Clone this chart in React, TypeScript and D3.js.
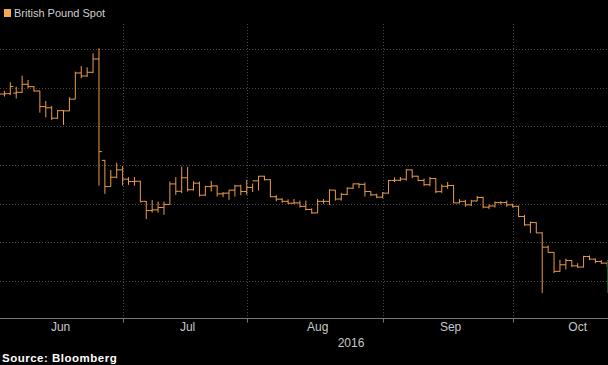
import * as d3 from 'd3';
import React from 'react';

// GBP/USD daily bars, Jun 1 - Oct 24 2016 (weekdays)
const startDay = '2016-06-01';
const lastBarDay = '2016-10-24';
const axisEndDay = '2016-10-31';

const opens = [
  1.4481, 1.4417, 1.4423, 1.4430, 1.4440, 1.4544, 1.4513, 1.4457, 1.4255, 1.4240, 1.4105,
  1.4203, 1.4200, 1.4352, 1.4690, 1.4651, 1.4699, 1.4871, 1.3560, 1.3221, 1.3342, 1.3437,
  1.3317, 1.3286, 1.3290, 1.3030, 1.2911, 1.2920, 1.2950, 1.2990, 1.3255, 1.3160, 1.3335,
  1.3180, 1.3265, 1.3110, 1.3221, 1.3230, 1.3127, 1.3136, 1.3175, 1.3230, 1.3157,
  1.3210, 1.3295, 1.3355, 1.3310, 1.3090, 1.3058, 1.3030, 1.3006, 1.3010, 1.2965, 1.2925,
  1.2880, 1.3030, 1.3030, 1.3175, 1.3060, 1.3120, 1.3200, 1.3256, 1.3250, 1.3157, 1.3114, 1.3084,
  1.3136, 1.3300, 1.3302, 1.3317, 1.3437, 1.3355, 1.3300, 1.3245, 1.3325, 1.3155, 1.3225,
  1.3235, 1.3010, 1.3030, 1.2985, 1.3035, 1.3080, 1.2955, 1.2970, 1.3014, 1.3014, 1.2985,
  1.2965, 1.2834, 1.2726, 1.2756, 1.2622, 1.2438, 1.2370, 1.2125, 1.2210, 1.2265, 1.2196,
  1.2180, 1.2317, 1.2283, 1.2252, 1.2231,
];
const highs = [
  1.4500, 1.4460, 1.4570, 1.4513, 1.4655, 1.4600, 1.4520, 1.4462, 1.4328, 1.4264, 1.4212,
  1.4210, 1.4376, 1.4707, 1.4780, 1.4763, 1.4944, 1.5010, 1.3566, 1.3437, 1.3531, 1.3488,
  1.3342, 1.3345, 1.3295, 1.3035, 1.3049, 1.3027, 1.3027, 1.3286, 1.3342, 1.3479, 1.3472,
  1.3290, 1.3286, 1.3230, 1.3295, 1.3235, 1.3149, 1.3178, 1.3243, 1.3245, 1.3307,
  1.3260, 1.3359, 1.3360, 1.3316, 1.3110, 1.3070, 1.3055, 1.3060, 1.3040, 1.3040, 1.2940,
  1.3058, 1.3060, 1.3187, 1.3178, 1.3140, 1.3210, 1.3260, 1.3262, 1.3273, 1.3160, 1.3130, 1.3150,
  1.3307, 1.3340, 1.3345, 1.3446, 1.3440, 1.3360, 1.3325, 1.3345, 1.3330, 1.3250, 1.3280,
  1.3243, 1.3060, 1.3050, 1.3050, 1.3100, 1.3090, 1.2990, 1.3030, 1.3030, 1.3040, 1.3000,
  1.2975, 1.2855, 1.2769, 1.2760, 1.2630, 1.2460, 1.2375, 1.2274, 1.2290, 1.2270, 1.2230,
  1.2326, 1.2330, 1.2290, 1.2270, 1.2250,
];
const lows = [
  1.4385, 1.4385, 1.4406, 1.4360, 1.4435, 1.4492, 1.4448, 1.4177, 1.4117, 1.4083, 1.4096,
  1.4018, 1.4195, 1.4350, 1.4621, 1.4640, 1.4690, 1.3234, 1.3127, 1.3221, 1.3329, 1.3234,
  1.3243, 1.3233, 1.3015, 1.2800, 1.2885, 1.2885, 1.2855, 1.2985, 1.3114, 1.3136, 1.3157,
  1.3170, 1.3092, 1.3100, 1.3157, 1.3092, 1.3084, 1.3049, 1.3092, 1.3110, 1.3114,
  1.3150, 1.3170, 1.3300, 1.3084, 1.3030, 1.3010, 1.2995, 1.2996, 1.2950, 1.2915, 1.2870,
  1.2877, 1.3000, 1.2984, 1.3040, 1.3040, 1.3110, 1.3190, 1.3200, 1.3092, 1.3100, 1.3070, 1.3070,
  1.3130, 1.3280, 1.3290, 1.3298, 1.3330, 1.3290, 1.3230, 1.3225, 1.3136, 1.3140, 1.3190,
  1.3006, 1.3006, 1.2960, 1.2970, 1.3030, 1.2940, 1.2930, 1.2950, 1.2990, 1.2960, 1.2950,
  1.2826, 1.2713, 1.2619, 1.2619, 1.1844, 1.2365, 1.2102, 1.2120, 1.2150, 1.2180, 1.2170,
  1.2175, 1.2270, 1.2230, 1.2220, 1.2180,
];
const closes = [
  1.4417, 1.4423, 1.4515, 1.4440, 1.4544, 1.4513, 1.4457, 1.4255, 1.4240, 1.4105, 1.4203,
  1.4200, 1.4352, 1.4690, 1.4651, 1.4699, 1.4871, 1.3673, 1.3221, 1.3342, 1.3437, 1.3317,
  1.3286, 1.3290, 1.3030, 1.2911, 1.2920, 1.2950, 1.2990, 1.3255, 1.3160, 1.3335, 1.3180,
  1.3265, 1.3110, 1.3221, 1.3230, 1.3127, 1.3136, 1.3175, 1.3230, 1.3157, 1.3210,
  1.3295, 1.3355, 1.3310, 1.3090, 1.3058, 1.3030, 1.3006, 1.3010, 1.2965, 1.2925, 1.2880,
  1.3030, 1.3030, 1.3175, 1.3060, 1.3120, 1.3200, 1.3256, 1.3250, 1.3157, 1.3114, 1.3084, 1.3136,
  1.3300, 1.3302, 1.3317, 1.3437, 1.3355, 1.3300, 1.3245, 1.3325, 1.3155, 1.3225, 1.3235,
  1.3010, 1.3030, 1.2985, 1.3035, 1.3080, 1.2955, 1.2970, 1.3014, 1.3014, 1.2985, 1.2965,
  1.2834, 1.2726, 1.2756, 1.2622, 1.2438, 1.2370, 1.2125, 1.2210, 1.2265, 1.2196, 1.2180,
  1.2317, 1.2283, 1.2252, 1.2231, 1.2200,
];

const yTicks = [1.5, 1.45, 1.4, 1.35, 1.3, 1.25, 1.2];
const monthLabels = ['Jun', 'Jul', 'Aug', 'Sep', 'Oct'];
const yearLabel = '2016';

const width = 608;
const height = 365;
const plotTop = 24;
const axisY = 318.5;

const parse = d3.utcParse('%Y-%m-%d');
const fmt = d3.utcFormat('%Y-%m-%d');
const isWeekday = (d: Date) => d.getUTCDay() !== 0 && d.getUTCDay() !== 6;

// trading-day (weekday) axis
const axisDays = d3.utcDay
  .range(parse(startDay)!, d3.utcDay.offset(parse(axisEndDay)!, 1))
  .filter(isWeekday);
const barDays = axisDays.filter(d => d <= parse(lastBarDay)!);

const step = 5.91;
const x = d3.scalePoint<string>()
  .domain(axisDays.map(fmt))
  .range([-1.5, -1.5 + (axisDays.length - 1) * step]);

const y = d3.scaleLinear().domain([1.2, 1.5]).range([281, 49]);

const bars = barDays.map((d, i) => ({
  key: fmt(d),
  o: opens[i], h: highs[i], l: lows[i], c: closes[i],
}));

// month groups on the trading-day axis
const months = d3.groups(axisDays, d => d.getUTCMonth()).map(([, days]) => days);

export default function App() {
  const barColor = '#eb9c48';
  const gridColor = '#4a4a4a';
  const font = '"Liberation Sans", Arial, sans-serif';

  const monthEdges = months.slice(0, -1).map(days => x(fmt(days[days.length - 1]))!);

  return (
    <svg width={width} height={height} style={{ display: 'block', position: 'absolute', left: 0, top: 0, background: '#000' }}>
      <rect width={width} height={height} fill="#000" />

      {yTicks.map(t => (
        <line key={t} x1={0} x2={width} y1={Math.round(y(t)) + 0.5} y2={Math.round(y(t)) + 0.5}
          stroke={gridColor} strokeDasharray="1,2" />
      ))}
      {monthEdges.map((mx, i) => (
        <line key={i} x1={Math.round(mx) + 0.5} x2={Math.round(mx) + 0.5} y1={plotTop} y2={axisY}
          stroke={gridColor} strokeDasharray="1,2" />
      ))}

      <g fill="none" stroke={barColor} strokeWidth={1}>
        {bars.map(b => {
          const bx = x(b.key)!;
          return (
            <path key={b.key}
              d={`M${bx},${y(b.h)}V${y(b.l)}M${bx - 3},${y(b.o)}H${bx}M${bx},${y(b.c)}H${bx + 3}`} />
          );
        })}
      </g>

      <line x1={607.5} x2={607.5} y1={260} y2={293} stroke="#174f20" />

      <line x1={0} x2={width} y1={axisY} y2={axisY} stroke="#777" />
      {monthEdges.map((mx, i) => (
        <line key={i} x1={Math.round(mx) + 0.5} x2={Math.round(mx) + 0.5} y1={axisY} y2={axisY + 4} stroke="#777" />
      ))}

      {months.map((days, i) => {
        const cx = (x(fmt(days[0]))! + x(fmt(days[days.length - 1]))!) / 2;
        return (
          <text key={i} x={cx} y={331} fill="#c8c8c8" fontSize={12} fontFamily={font} textAnchor="middle">
            {monthLabels[i]}
          </text>
        );
      })}
      <text x={351} y={347} fill="#c8c8c8" fontSize={12} fontFamily={font} textAnchor="middle">{yearLabel}</text>

      <rect x={4} y={9} width={7} height={8} fill="#f5a84f" />
      <text x={14} y={17} fill="#cfcfcf" fontSize={11} fontFamily={font}>British Pound Spot</text>

      <text x={2} y={362} fill="#fff" fontSize={11.5} fontWeight="bold" fontFamily={font} letterSpacing={0.5}>Source: Bloomberg</text>
    </svg>
  );
}
